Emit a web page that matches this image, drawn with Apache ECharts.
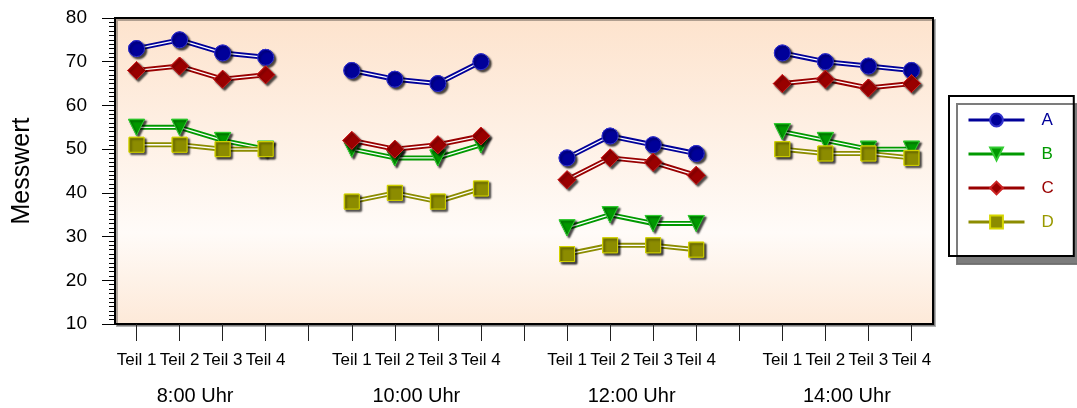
<!DOCTYPE html>
<html>
<head>
<meta charset="utf-8">
<script src="https://cdn.jsdelivr.net/npm/echarts@6/dist/echarts.min.js"></script>
<style>
html,body{margin:0;padding:0;background:#ffffff;}
#chart{width:1077px;height:408px;}
</style>
</head>
<body>
<div id="chart"></div>
<script>
// Categories: 4 parts per time group, with an empty slot between groups
var parts = ['Teil 1','Teil 2','Teil 3','Teil 4'];
var groups = ['8:00 Uhr','10:00 Uhr','12:00 Uhr','14:00 Uhr'];
var yTicks = [10, 80, 10]; // min, max, step

// Values per group (Teil 1..4)
var A = [[73,75,72,71],[68,66,65,70],[48,53,51,49],[72,70,69,68]];
var B = [[55,55,52,50],[50,48,48,51],[32,35,33,33],[54,52,50,50]];
var C = [[68,69,66,67],[52,50,51,53],[43,48,47,44],[65,66,64,65]];
var D = [[51,51,50,50],[38,40,38,41],[26,28,28,27],[50,49,49,48]];

var seriesNames = ['A','B','C','D'];
var seriesColors = ['#000099','#009900','#990000','#8c8c00'];
var textColors = ['#000099','#009900','#990000','#999900'];
var borderColors = ['#3333cc','#33cc33','#cc2222','#d6d600'];
var symbols = ['circle','triangle','diamond','rect'];
var symbolSizes = [16, 16, 18, 15];
var symbolRot = [0, 180, 0, 0];

// Build flat category list with gap slots
var cats = [];
groups.forEach(function(g, gi){
  parts.forEach(function(p){ cats.push(p); });
  if (gi < groups.length - 1) cats.push('');
});
function flatten(arr){
  var out = [];
  arr.forEach(function(grp, gi){
    grp.forEach(function(v){ out.push(v); });
    if (gi < arr.length - 1) out.push(null);
  });
  return out;
}
var dataSets = [A,B,C,D].map(flatten);

var font = '"Liberation Sans", Arial, sans-serif';
var series = [];
dataSets.forEach(function(d, i){
  series.push({
    name: seriesNames[i], type: 'line', data: d, z: 2 + i*3,
    symbol: symbols[i], symbolSize: symbolSizes[i], symbolRotate: symbolRot[i],
    showSymbol: true,
    lineStyle: {color: seriesColors[i], width: 5},
    itemStyle: {color: seriesColors[i], borderColor: borderColors[i], borderWidth: 1,
      shadowColor: 'rgba(0,0,0,0.45)', shadowBlur: 2, shadowOffsetX: 2, shadowOffsetY: 2},
    emphasis: {disabled: true}, animation: false
  });
  series.push({
    name: seriesNames[i] + '_inner', type: 'line', data: d, z: 3 + i*3, silent: true,
    symbol: 'none', lineStyle: {color: '#ffffff', width: 1.3},
    emphasis: {disabled: true}, animation: false
  });
  series.push({
    name: seriesNames[i] + '_sym', type: 'line', data: d, z: 4 + i*3, silent: true,
    symbol: symbols[i], symbolSize: symbolSizes[i], symbolRotate: symbolRot[i],
    lineStyle: {opacity: 0, width: 0},
    itemStyle: {color: seriesColors[i], borderColor: borderColors[i], borderWidth: 1,
      shadowColor: 'rgba(0,0,0,0.45)', shadowBlur: 2, shadowOffsetX: 2, shadowOffsetY: 2},
    emphasis: {disabled: true}, animation: false
  });
});

var chart = echarts.init(document.getElementById('chart'), null, {renderer: 'canvas'});
chart.setOption({
  backgroundColor: '#ffffff',
  animation: false,
  textStyle: {fontFamily: font},
  grid: {
    left: 115, top: 18, right: 144, bottom: 84, show: true,
    borderColor: '#000000', borderWidth: 2,
    backgroundColor: {type: 'linear', x: 0, y: 0, x2: 0, y2: 1, colorStops: [
      {offset: 0, color: '#fde3cd'},
      {offset: 0.7, color: '#fffbf8'},
      {offset: 1, color: '#fde9d8'}
    ]},
    shadowColor: 'rgba(0,0,0,0.3)', shadowOffsetX: 2, shadowOffsetY: 2, shadowBlur: 0
  },
  legend: {
    orient: 'vertical', left: 949, top: 96,
    padding: [14, 20, 24, 18],
    itemWidth: 56, itemHeight: 16, itemGap: 14,
    backgroundColor: '#ffffff', borderColor: '#000000', borderWidth: 2,
    shadowColor: 'rgba(110,110,110,0.9)', shadowOffsetX: 8, shadowOffsetY: 8, shadowBlur: 0,
    data: seriesNames.map(function(n, i){
      return {name: n, textStyle: {color: textColors[i], fontSize: 17, lineHeight: 18, padding: [2,0,0,12]},
              lineStyle: {width: 3}};
    }),
    textStyle: {fontFamily: font}
  },
  xAxis: [{
    type: 'category', data: cats, boundaryGap: true,
    axisLine: {show: true, lineStyle: {color: '#000000', width: 2}},
    axisTick: {show: true, alignWithLabel: true, interval: 0, length: 17, lineStyle: {color: '#222222', width: 1}},
    axisLabel: {interval: 0, color: '#000000', fontSize: 17, margin: 28, fontFamily: font},
    splitLine: {show: false}
  }, {
    type: 'value', min: 0, max: 19, interval: 1, position: 'bottom',
    axisLine: {show: false}, axisTick: {show: false}, splitLine: {show: false},
    axisLabel: {
      color: '#000000', fontSize: 20, margin: 62, fontFamily: font, showMinLabel: true, showMaxLabel: true,
      formatter: function(v){
        var k = v - 2;
        if (k >= 0 && k % 5 === 0 && groups[k/5]) {
          var g = groups[k/5];
          return g.length < 9 ? '{s|' + g + '}' : g;
        }
        return '';
      },
      rich: {s: {fontSize: 20, color: '#000000', fontFamily: font, padding: [0, 12, 0, 0]}}
    }
  }],
  yAxis: {
    type: 'value', min: yTicks[0], max: yTicks[1], interval: yTicks[2],
    name: 'Messwert', nameLocation: 'middle', nameGap: 80,
    nameTextStyle: {color: '#000000', fontSize: 25, fontFamily: font},
    axisLine: {show: true, lineStyle: {color: '#000000', width: 2}},
    axisTick: {show: true, length: 13, lineStyle: {color: '#000000', width: 1}},
    minorTick: {show: true, splitNumber: 10, length: 6, lineStyle: {color: '#000000', width: 1}},
    axisLabel: {color: '#000000', fontSize: 19, margin: 28, fontFamily: font},
    splitLine: {show: false}, minorSplitLine: {show: false}
  },
  series: series
});
</script>
</body>
</html>
